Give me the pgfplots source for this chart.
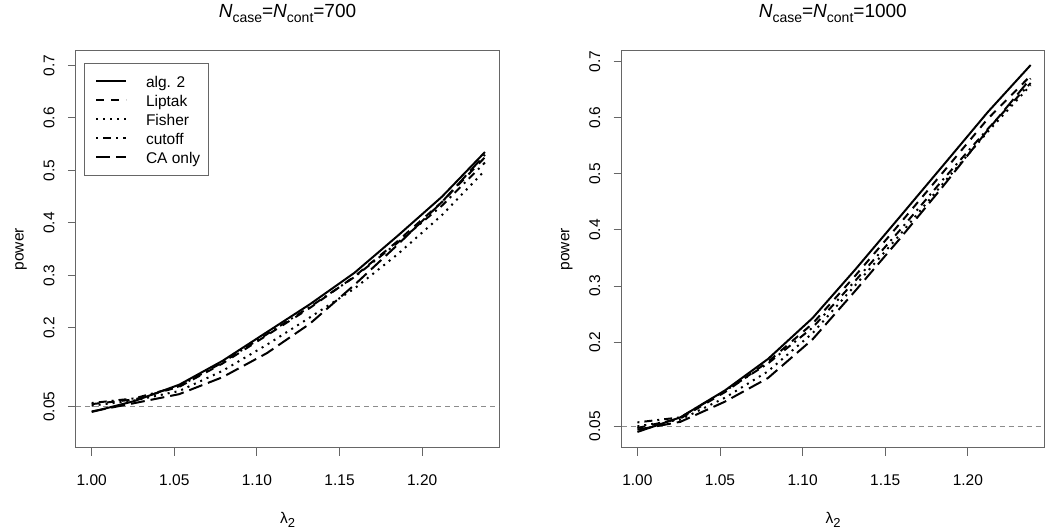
\documentclass[border=0pt]{standalone}
\usepackage{fontspec}
\setmainfont{Liberation Sans}
\usepackage{pgfplots}
\usepackage{pgfplotstable}
\pgfplotsset{compat=1.18}

\pgfplotstableread{
lam alg lip fis cut ca
1.000 0.040 0.055 0.052 0.057 0.041
1.026 0.061 0.064 0.062 0.066 0.057
1.053 0.092 0.088 0.080 0.089 0.074
1.079 0.137 0.132 0.118 0.134 0.106
1.106 0.192 0.186 0.168 0.188 0.152
1.132 0.245 0.238 0.220 0.240 0.208
1.159 0.305 0.298 0.275 0.297 0.282
1.185 0.375 0.365 0.340 0.362 0.358
1.212 0.450 0.440 0.415 0.433 0.440
1.238 0.535 0.525 0.500 0.515 0.530
}\leftdata

\pgfplotstableread{
lam alg lip fis cut ca
1.000 0.040 0.047 0.050 0.057 0.044
1.026 0.066 0.064 0.062 0.066 0.058
1.053 0.114 0.111 0.101 0.113 0.094
1.079 0.170 0.165 0.148 0.162 0.136
1.106 0.243 0.233 0.216 0.226 0.205
1.132 0.330 0.319 0.302 0.310 0.292
1.159 0.424 0.412 0.392 0.400 0.385
1.185 0.515 0.503 0.483 0.490 0.478
1.212 0.610 0.598 0.575 0.580 0.578
1.238 0.694 0.675 0.658 0.662 0.670
}\rightdata

\newcommand{\tfont}{\fontsize{15.5}{19}\selectfont}
\pgfplotsset{
  rpanel/.style={
    scale only axis, width=423pt, height=397pt,
    xmin=0.9905, xmax=1.2465,
    axis line style={black!60, line width=1pt},
    every tick/.style={black!60, line width=1pt},
    tick align=outside, major tick length=8pt,
    xtick pos=bottom, ytick pos=left,
    xtick={1,1.05,1.1,1.15,1.2},
    xticklabels={1.00,1.05,1.10,1.15,1.20},
    ytick={0.05,0.2,0.3,0.4,0.5,0.6,0.7},
    yticklabels={0.05,0.2,0.3,0.4,0.5,0.6,0.7},
    /pgf/number format/assume math mode=true,
    tick label style={font=\tfont, text=black},
    xticklabel style={anchor=base, yshift=-30.3pt},
    yticklabel style={anchor=base, xshift=-13.5pt, rotate=90},
    xlabel style={at={(axis description cs:0.5,-0.1904)}, anchor=base, font=\tfont},
    ylabel style={at={(axis description cs:-0.13,0.5)}, anchor=center, font=\tfont},
    xlabel={λ\raisebox{-4pt}{\fontsize{13}{13}\selectfont 2}},
    ylabel={power},
    legend image code/.code={\path (0pt,0pt); \draw[#1] (4pt,0pt) -- (34pt,0pt);},
  },
  s1/.style={black, line width=2pt},
  s2/.style={black, line width=2pt, dash pattern=on 8pt off 7pt},
  s3/.style={black, line width=2pt, dash pattern=on 2pt off 5pt},
  s4/.style={black, line width=2pt, dash pattern=on 2pt off 5pt on 8pt off 5pt},
  s5/.style={black, line width=2pt, dash pattern=on 14pt off 6pt},
  refl/.style={black!45, line width=1pt, dash pattern=on 5pt off 4pt, forget plot},
}

\newcommand{\ttl}[1]{\textit{N}\raisebox{-5pt}{\fontsize{14}{14}\selectfont case}=\textit{N}\raisebox{-5pt}{\fontsize{14}{14}\selectfont cont}=#1}

\begin{document}
\begin{tikzpicture}
\useasboundingbox (0,0) rectangle (1050pt,532pt);

\begin{axis}[rpanel, at={(76pt,84.3pt)}, anchor=south west,
  ymin=-0.028, ymax=0.728,
  legend cell align=left,
  legend style={at={(axis description cs:0,1)}, xshift=8pt, yshift=-12pt, anchor=north west,
    draw=black!60, line width=1pt, font=\tfont, inner xsep=7pt, inner ysep=8.5pt,
    row sep=0pt, nodes={inner sep=1.5pt, text height=14.5pt, text depth=1.5pt},
    /tikz/every odd column/.append style={column sep=17pt}},
]
\addplot[refl] coordinates {(0.9905,0.05) (1.2465,0.05)};
\addplot[s1] table[x=lam, y=alg] {\leftdata};
\addplot[s2] table[x=lam, y=lip] {\leftdata};
\addplot[s3] table[x=lam, y=fis] {\leftdata};
\addplot[s4] table[x=lam, y=cut] {\leftdata};
\addplot[s5] table[x=lam, y=ca] {\leftdata};
\legend{alg. 2, Liptak, Fisher, cutoff, CA only}
\end{axis}

\begin{axis}[rpanel, at={(621.7pt,84.3pt)}, anchor=south west,
  ymin=0.0119, ymax=0.7196,
]
\addplot[refl] coordinates {(0.9905,0.05) (1.2465,0.05)};
\addplot[s1] table[x=lam, y=alg] {\rightdata};
\addplot[s2] table[x=lam, y=lip] {\rightdata};
\addplot[s3] table[x=lam, y=fis] {\rightdata};
\addplot[s4] table[x=lam, y=cut] {\rightdata};
\addplot[s5] table[x=lam, y=ca] {\rightdata};
\end{axis}

\node[anchor=base, font=\fontsize{19}{19}\selectfont] at (287.5pt,514.7pt) {\ttl{700}};
\node[anchor=base, font=\fontsize{19}{19}\selectfont] at (832.8pt,514.7pt) {\ttl{1000}};
\end{tikzpicture}
\end{document}
